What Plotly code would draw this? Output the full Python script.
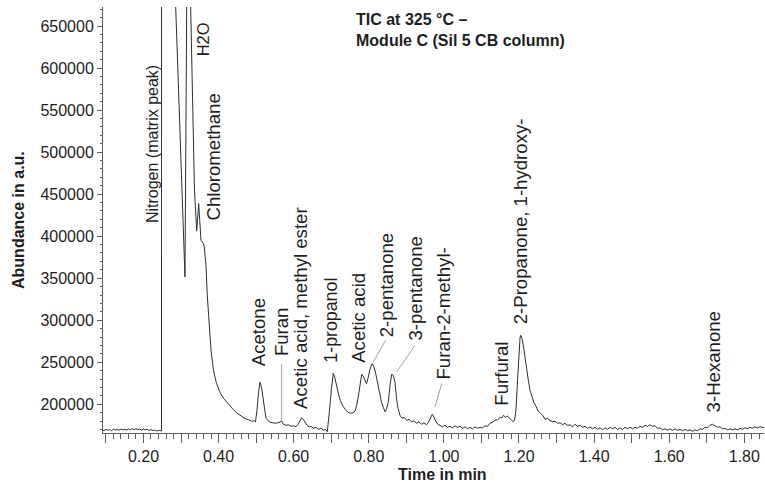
import plotly.graph_objects as go

# Total ion chromatogram trace (retention time in min, abundance in a.u.)
time_min = [
    0.090, 0.095, 0.100, 0.105, 0.110, 0.115, 0.120, 0.125, 0.130, 0.135,
    0.140, 0.145, 0.150, 0.155, 0.160, 0.165, 0.170, 0.175, 0.180, 0.185,
    0.190, 0.195, 0.200, 0.205, 0.210, 0.215, 0.220, 0.225, 0.230, 0.235,
    0.240, 0.245, 0.2480, 0.2482, 0.2600, 0.2750, 0.2800, 0.2975, 0.3017, 0.3097,
    0.3105, 0.3155, 0.3180, 0.3220, 0.3358, 0.3417, 0.3470, 0.3531, 0.3593, 0.3619,
    0.3664, 0.3699, 0.3744, 0.3798, 0.3864, 0.3944, 0.4037, 0.4131, 0.4224, 0.4304,
    0.4384, 0.4482, 0.4570, 0.4650, 0.4748, 0.4810, 0.4882, 0.4943, 0.4983, 0.5023,
    0.5063, 0.5103, 0.5143, 0.5182, 0.5222, 0.5262, 0.5316, 0.5369, 0.5449, 0.5515,
    0.5582, 0.5635, 0.5680, 0.5728, 0.5795, 0.5861, 0.5928, 0.5995, 0.6061, 0.6115,
    0.6168, 0.6213, 0.6256, 0.6301, 0.6354, 0.6408, 0.6461, 0.6527, 0.6594, 0.6660,
    0.6727, 0.6794, 0.6847, 0.6895, 0.6927, 0.6967, 0.7007, 0.7055, 0.7100, 0.7145,
    0.7193, 0.7246, 0.7313, 0.7380, 0.7446, 0.7513, 0.7579, 0.7633, 0.7678, 0.7726,
    0.7766, 0.7811, 0.7853, 0.7899, 0.7939, 0.7987, 0.8032, 0.8085, 0.8130, 0.8178,
    0.8232, 0.8285, 0.8338, 0.8386, 0.8431, 0.8471, 0.8519, 0.8565, 0.8610, 0.8652,
    0.8698, 0.8738, 0.8778, 0.8831, 0.8884, 0.8938, 0.9009, 0.9071, 0.9137, 0.9204,
    0.9270, 0.9337, 0.9404, 0.9470, 0.9537, 0.9590, 0.9643, 0.9691, 0.9736, 0.9790,
    0.9843, 0.9896, 0.9963, 1.0029, 1.0096, 1.0162, 1.0229, 1.0296, 1.0362, 1.0429,
    1.0495, 1.0562, 1.0629, 1.0695, 1.0762, 1.0828, 1.0895, 1.0961, 1.1028, 1.1095,
    1.1161, 1.1228, 1.1294, 1.1361, 1.1428, 1.1494, 1.1548, 1.1587, 1.1641, 1.1681,
    1.1734, 1.1787, 1.1848, 1.1880, 1.1920, 1.1955, 1.1987, 1.2027, 1.2045, 1.2080,
    1.2115, 1.2160, 1.2205, 1.2253, 1.2293, 1.2346, 1.2400, 1.2453, 1.2514, 1.2573,
    1.2640, 1.2693, 1.2759, 1.2826, 1.2893, 1.2959, 1.3026, 1.3092, 1.3159, 1.3226,
    1.3292, 1.3359, 1.3425, 1.3492, 1.3558, 1.3625, 1.3692, 1.3758, 1.3825, 1.3891,
    1.3958, 1.4024, 1.4091, 1.4158, 1.4224, 1.4291, 1.4357, 1.4424, 1.4490, 1.4557,
    1.4624, 1.4690, 1.4757, 1.4823, 1.4890, 1.4957, 1.5023, 1.5090, 1.5156, 1.5223,
    1.5289, 1.5356, 1.5423, 1.5489, 1.5556, 1.5622, 1.5689, 1.5756, 1.5822, 1.5889,
    1.5955, 1.6022, 1.6088, 1.6155, 1.6222, 1.6288, 1.6355, 1.6421, 1.6488, 1.6555,
    1.6621, 1.6688, 1.6754, 1.6821, 1.6887, 1.6954, 1.7021, 1.7087, 1.7154, 1.7220,
    1.7287, 1.7354, 1.7420, 1.7487, 1.7553, 1.7620, 1.7687, 1.7753, 1.7820, 1.7886,
    1.7953, 1.8020, 1.8086, 1.8153, 1.8219, 1.8286, 1.8352, 1.8419, 1.8499, 1.8550,
]

abundance = [
    169500, 168700, 170200, 169100, 169900, 168600, 170400, 169300, 170100, 169000,
    170500, 169400, 170300, 169200, 170800, 169600, 170900, 169800, 171000, 169900,
    170400, 169300, 170700, 169500, 170200, 168900, 169800, 168700, 169400, 168300,
    168900, 168200, 168300, 1200000, 2000000, 1500000, 748000, 522000, 454800, 360000,
    351500, 700000, 1800000, 752000, 454800, 406000, 438900, 395200, 391300, 386900,
    365500, 329800, 294000, 264300, 240500, 225000, 214300, 207100, 202400, 197600,
    194000, 189900, 186900, 184500, 182100, 181500, 179800, 180400, 179200, 192900,
    214300, 226200, 220200, 207100, 190500, 183300, 180400, 178600, 178000, 177400,
    178000, 178600, 179800, 176200, 175000, 175600, 173800, 174400, 173200, 176200,
    181500, 183900, 182100, 178000, 175000, 173200, 173800, 171400, 172600, 170200,
    171400, 169000, 170200, 167300, 178600, 198800, 219000, 236900, 231000, 220800,
    211900, 204200, 197600, 193500, 190500, 189300, 189900, 191700, 198800, 210700,
    223800, 235700, 233300, 227400, 224400, 232100, 241700, 248200, 245200, 238100,
    226200, 211900, 202400, 196400, 191100, 194000, 202400, 222600, 235700, 234500,
    226200, 207100, 195200, 186900, 183300, 184500, 181000, 182100, 179200, 180400,
    177400, 179200, 176200, 178000, 175600, 178600, 183300, 188100, 184500, 179200,
    176200, 174400, 173200, 175000, 172600, 173800, 172000, 174400, 172600, 173800,
    171400, 173200, 170800, 172600, 170800, 173200, 171400, 172600, 172000, 174400,
    173800, 177400, 178600, 181000, 181500, 184500, 183900, 186900, 184500, 186300,
    183900, 182100, 179200, 181000, 192900, 222600, 252400, 278600, 282100, 278600,
    270200, 254800, 240500, 227400, 216700, 208300, 201800, 197600, 191700, 189300,
    186300, 182100, 183300, 180400, 179200, 179800, 177400, 178000, 175600, 177400,
    175000, 175600, 173200, 176200, 173800, 175000, 172600, 173800, 171400, 173200,
    170800, 172600, 170200, 172000, 169600, 172000, 170200, 172600, 170800, 172600,
    170200, 172000, 170200, 172600, 170800, 172600, 170800, 172600, 171400, 173800,
    172600, 175000, 173800, 175600, 173800, 174400, 171400, 172000, 169600, 170800,
    169000, 170800, 169000, 170800, 169000, 170200, 168500, 170200, 168500, 169600,
    167900, 169600, 168500, 170800, 170200, 172600, 172000, 175000, 176200, 174400,
    172600, 173200, 170800, 171400, 169600, 170800, 169600, 170800, 169600, 171400,
    170200, 172000, 170800, 172600, 171400, 173200, 172000, 173200, 172600, 172000,
]

# Compound labels: rotated text, centred on the time, starting at the abundance
peak_names = [
    "Nitrogen (matrix peak)", "H2O", "Chloromethane", "Acetone", "Furan",
    "Acetic acid, methyl ester", "1-propanol", "Acetic acid", "2-pentanone",
    "3-pentanone", "Furan-2-methyl-", "Furfural", "2-Propanone, 1-hydroxy-",
    "3-Hexanone",
]
label_time = [0.2226, 0.3593, 0.3859, 0.5084, 0.5680, 0.6186, 0.6985, 0.7720,
              0.8477, 0.9249, 0.9984, 1.1539, 1.2027, 1.7174]
label_abundance = [414300, 613100, 417300, 244400, 256300, 192900, 248500,
                   248500, 278200, 274200, 228600, 196800, 294000, 188900]

# Leader lines joining some labels to their peaks
leader_t0 = [0.5680, 0.8450, 0.9230, 0.9942]
leader_a0 = [248000, 276200, 270200, 224600]
leader_t1 = [0.5680, 0.8120, 0.8743, 0.9763]
leader_a1 = [180500, 250400, 238500, 196800]

x_major = [0.1, 0.2, 0.3, 0.4, 0.5, 0.6, 0.7, 0.8, 0.9, 1.0, 1.1, 1.2, 1.3,
           1.4, 1.5, 1.6, 1.7, 1.8]
x_labelled = [0.2, 0.4, 0.6, 0.8, 1.0, 1.2, 1.4, 1.6, 1.8]

FONT = "Liberation Sans, Arial, Helvetica, sans-serif"
INK = "#1e1e1e"
AXIS = "#5e5e5e"
LABEL_SIZE = 18.6
SMALL_LABELS = {"Nitrogen (matrix peak)": 16, "H2O": 16.5, "1-propanol": 17.8}

fig = go.Figure()
fig.add_trace(go.Scatter(
    x=time_min, y=abundance, mode="lines",
    line=dict(color="#2e2e2e", width=1),
    hoverinfo="skip", showlegend=False,
))

for name, t, a in zip(peak_names, label_time, label_abundance):
    fig.add_annotation(
        x=t, y=a, xref="x", yref="y", text=name, textangle=-90,
        showarrow=False, xanchor="center", yanchor="bottom", borderpad=0,
        font=dict(family=FONT, size=SMALL_LABELS.get(name, LABEL_SIZE), color=INK),
    )

for t0, a0, t1, a1 in zip(leader_t0, leader_a0, leader_t1, leader_a1):
    fig.add_shape(type="line", xref="x", yref="y", x0=t0, y0=a0, x1=t1, y1=a1,
                  line=dict(color="#8a8a8a", width=0.8))

fig.add_annotation(
    xref="paper", yref="paper", x=0.3797, y=0.995, xanchor="left", yanchor="top",
    text="<b>TIC at 325 °C –<br>Module C (Sil 5 CB column)</b>", align="left",
    showarrow=False, font=dict(family=FONT, size=16, color=INK),
)
fig.add_annotation(
    xref="paper", yref="paper", x=-0.1286, y=0.50, xanchor="center", yanchor="middle",
    text="<b>Abundance in a.u.</b>", textangle=-90, showarrow=False,
    font=dict(family=FONT, size=16, color=INK),
)
fig.add_annotation(
    xref="paper", yref="paper", x=0.513, y=-0.098, xanchor="center", yanchor="middle",
    text="<b>Time in min</b>", showarrow=False,
    font=dict(family=FONT, size=16, color=INK),
)

fig.update_xaxes(
    range=[0.0922, 1.8525], showgrid=False, zeroline=False,
    showline=True, linecolor=AXIS, linewidth=1,
    tickmode="array", tickvals=x_major,
    ticktext=[f"{v:.2f}" if any(abs(v - u) < 1e-9 for u in x_labelled) else "" for v in x_major],
    ticks="outside", ticklen=9, tickwidth=1, tickcolor=AXIS,
    tickfont=dict(family=FONT, size=16, color=INK),
    minor=dict(dtick=0.02, tick0=0, ticks="outside", ticklen=5, tickwidth=1, tickcolor=AXIS),
)
fig.update_yaxes(
    range=[165830, 672600], showgrid=False, zeroline=False,
    showline=True, linecolor=AXIS, linewidth=1,
    tick0=0, dtick=50000, tickformat="d",
    ticks="outside", ticklen=5, tickwidth=1, tickcolor=AXIS,
    tickfont=dict(family=FONT, size=16, color=INK),
    minor=dict(dtick=10000, ticks="outside", ticklen=2, tickwidth=1, tickcolor=AXIS),
)
fig.update_layout(
    width=765, height=483,
    margin=dict(l=103, r=1, t=7, b=50),
    paper_bgcolor="white", plot_bgcolor="white",
    showlegend=False,
)

fig.write_html("out.html")
